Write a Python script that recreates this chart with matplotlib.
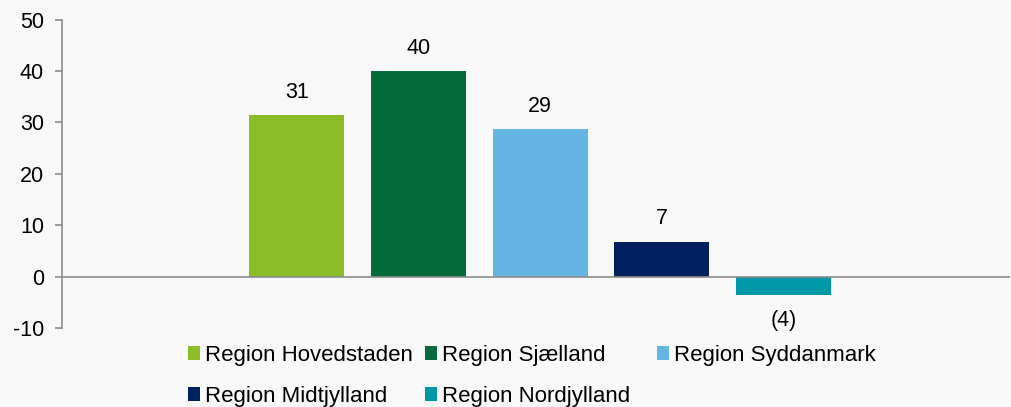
import matplotlib.pyplot as plt
import numpy as np

plt.rcParams['font.family'] = ['Liberation Sans', 'DejaVu Sans']
plt.rcParams['axes.unicode_minus'] = False

regions = ["Region Hovedstaden", "Region Sjælland", "Region Syddanmark",
           "Region Midtjylland", "Region Nordjylland"]
values = [31.4, 40.0, 28.7, 6.8, -3.6]
labels = ["31", "40", "29", "7", "(4)"]
colors = ["#8abd28", "#056b3a", "#65b5e4", "#002060", "#0097a7"]
yticks = [-10, 0, 10, 20, 30, 40, 50]

bg = "#f8f8f8"
fig = plt.figure(figsize=(10.12, 4.07), dpi=100, facecolor=bg)
ax = fig.add_axes([62 / 1012, 79 / 407, 948 / 1012, 308.5 / 407], facecolor=bg)

x = np.arange(len(regions))
bars = ax.bar(x, values, width=0.78, color=colors, label=regions, zorder=2)

for b, v, t in zip(bars, values, labels):
    off = 16.5 if v >= 0 else -18.5
    ax.annotate(t, (b.get_x() + b.get_width() / 2, v), xytext=(0, off),
                textcoords="offset points", ha="center", va="center", fontsize=15.5)

ax.set_xlim(-1.93, 5.86)
ax.set_ylim(-10, 50)
ax.set_yticks(yticks)
ax.tick_params(axis="y", labelsize=15.5, length=5, color="#8c8c8c", width=1.2, pad=8)
ax.set_xticks([])
for s in ["top", "right", "bottom"]:
    ax.spines[s].set_visible(False)
ax.spines["left"].set_color("#8c8c8c")
ax.spines["left"].set_linewidth(1.2)
ax.axhline(0, color="#8c8c8c", lw=1.2, zorder=3)

# legend: three columns, row-major order like the original
cols = [[0, 3], [1, 4], [2]]
col_x = [188, 425, 657]
for idx, cx in zip(cols, col_x):
    fig.legend(handles=[bars[i] for i in idx], labels=[regions[i] for i in idx],
               loc="upper left", bbox_to_anchor=(cx / 1012, 1 - 345 / 407),
               frameon=False, fontsize=16, handlelength=0.56, handleheight=0.56,
               handletextpad=0.22, labelspacing=0.9, borderpad=0, borderaxespad=0)

fig.savefig("out.png", dpi=100, facecolor=bg)
